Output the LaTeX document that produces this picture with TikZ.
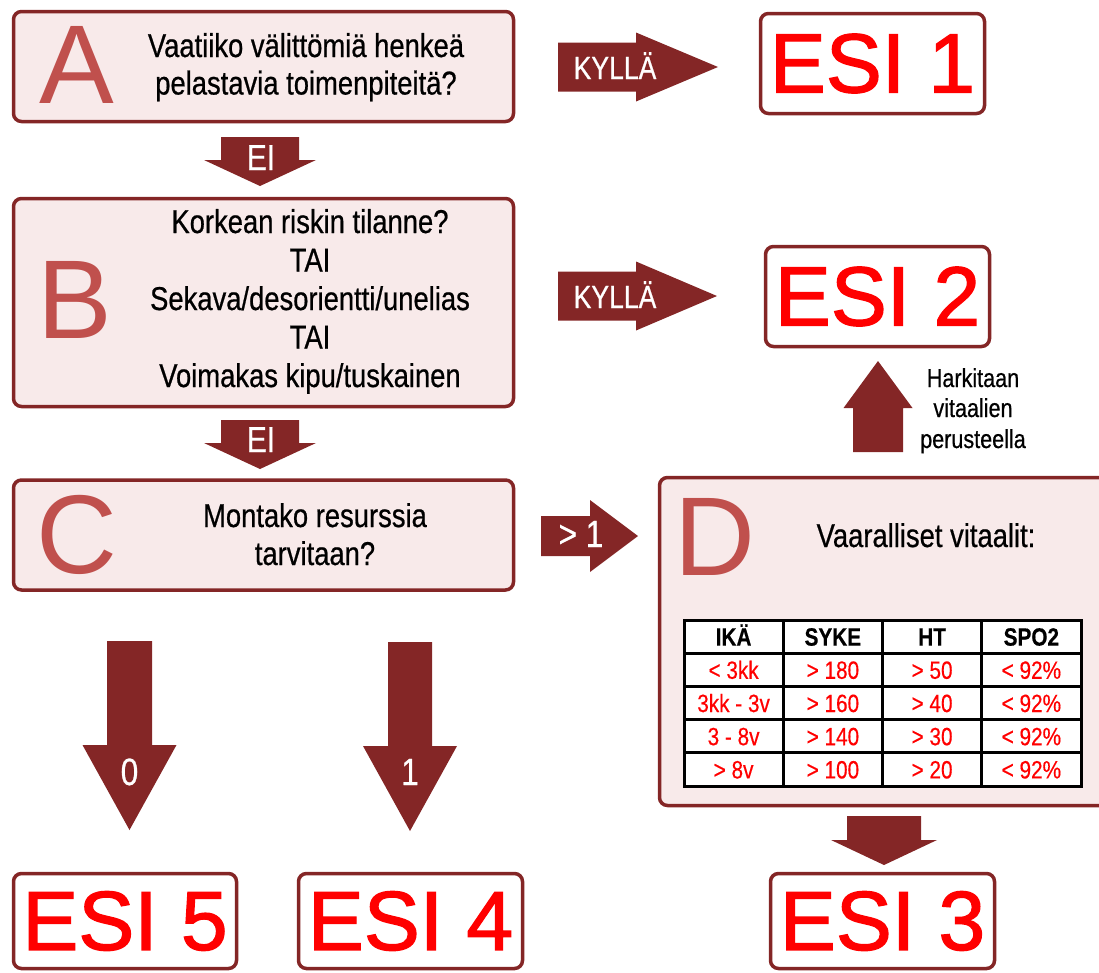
\documentclass[tikz,border=0pt]{standalone}
\usepackage{fontspec}
\setmainfont{Liberation Sans}
\newfontfamily\narrowfont[FakeStretch=0.83,FakeBold=0.6]{Liberation Sans}
\newfontfamily\tablefont[FakeStretch=0.83,FakeBold=0.4]{Liberation Sans}
\newfontfamily\esifont[FakeBold=1.5]{Liberation Sans}
\definecolor{dred}{RGB}{132,38,38}
\definecolor{pinkf}{RGB}{248,234,234}
\definecolor{letc}{RGB}{192,80,77}
\definecolor{esired}{RGB}{255,0,0}
\tikzset{
  qbox/.style={draw=dred, fill=pinkf, line width=3.5pt, rounded corners=8pt, inner sep=0pt},
  esibox/.style={draw=dred, fill=white, line width=3.5pt, rounded corners=8pt, inner sep=0pt,
    text=esired, font=\esifont\fontsize{84}{84}\selectfont},
  bigletter/.style={text=letc, font=\fontsize{112}{112}\selectfont, inner sep=0pt},
  qtext/.style={font=\narrowfont\fontsize{33}{38}\selectfont, inner sep=0pt, anchor=base},
  htext/.style={font=\narrowfont\fontsize{26}{30}\selectfont, inner sep=0pt, anchor=base},
  arrtext/.style={text=white, inner sep=0pt, anchor=base},
  arrfill/.style={fill=dred},
  tcell/.style={font=\tablefont\fontsize{25}{25}\selectfont, inner sep=0pt, anchor=base},
}
% right-pointing block arrow: x0, xhead, xtip, ycenter, shaft half, head half
\newcommand\rblock[6]{\fill[arrfill] (#1,#4-#5) -- (#2,#4-#5) -- (#2,#4-#6) -- (#3,#4)
  -- (#2,#4+#6) -- (#2,#4+#5) -- (#1,#4+#5) -- cycle;}
% vertical block arrow: xcenter, y0 (tail), yhead, ytip, shaft half, head half
\newcommand\vblock[6]{\fill[arrfill] (#1-#5,#2) -- (#1+#5,#2) -- (#1+#5,#3) -- (#1+#6,#3)
  -- (#1,#4) -- (#1-#6,#3) -- (#1-#5,#3) -- cycle;}
\begin{document}
\begin{tikzpicture}[x=1pt,y=-1pt]
\useasboundingbox (0,0) rectangle (1099,972);
\clip (0,0) rectangle (1099,972);

% question boxes
\node[qbox, minimum width=500, minimum height=110] (A) at (263.5,66.5) {};
\node[qbox, minimum width=500, minimum height=208] (B) at (263.5,302.5) {};
\node[qbox, minimum width=500, minimum height=110] (C) at (263.5,535) {};
\node[qbox, minimum width=451, minimum height=328] (D) at (885,641.5) {};

% big letters
\node[bigletter] (LA) at (77,65) {A};
\node[bigletter] (LB) at (75,300) {B};
\node[bigletter] (LC) at (77,535) {C};
\node[bigletter] (LD) at (714.5,537) {D};

% question texts
\node[qtext] (a1) at (306,57) {Vaatiiko välittömiä henkeä};
\node[qtext] (a2) at (306,94.5) {pelastavia toimenpiteitä?};

\node[qtext] (b1) at (310,233) {Korkean riskin tilanne?};
\node[qtext] (b2) at (310,271.5) {TAI};
\node[qtext] (b3) at (310,310) {Sekava/desorientti/unelias};
\node[qtext] (b4) at (310,348.5) {TAI};
\node[qtext] (b5) at (310,387) {Voimakas kipu/tuskainen};

\node[qtext] (c1) at (315,527) {Montako resurssia};
\node[qtext] (c2) at (315,565) {tarvitaan?};

\node[qtext] (d1) at (926,547) {Vaaralliset vitaalit:};

% ESI boxes
\node[esibox, minimum width=224, minimum height=100] (E1) at (872.5,63.5) {ESI 1};
\node[esibox, minimum width=224, minimum height=100] (E2) at (877.5,296.5) {ESI 2};
\node[esibox, minimum width=223, minimum height=95] (E5) at (125,921) {ESI 5};
\node[esibox, minimum width=224, minimum height=95] (E4) at (410.5,921) {ESI 4};
\node[esibox, minimum width=224, minimum height=95] (E3) at (882.5,921) {ESI 3};

% block arrows
\rblock{558}{636}{718}{67}{24.5}{34.5}
\rblock{558}{636}{717}{296}{24.5}{34.5}
\rblock{541}{590}{638}{536}{20}{36}
\vblock{260}{137}{160}{186}{39}{56}
\vblock{260}{420}{443}{469}{39}{56}
\vblock{129.5}{641}{745}{830}{22.5}{47}
\vblock{410}{642}{746}{831}{22}{47}
\vblock{878}{452}{408}{361}{25}{34.5}
\vblock{884}{816}{840}{865}{37}{53}

% arrow labels
\node[arrtext, font=\narrowfont\fontsize{32}{32}\selectfont] (k1) at (615,79) {KYLLÄ};
\node[arrtext, font=\narrowfont\fontsize{32}{32}\selectfont] (k2) at (615,308) {KYLLÄ};
\node[arrtext, font=\narrowfont\fontsize{36}{36}\selectfont] (ei1) at (261,170) {EI};
\node[arrtext, font=\narrowfont\fontsize{36}{36}\selectfont] (ei2) at (261,452) {EI};
\node[arrtext, font=\narrowfont\fontsize{38}{38}\selectfont] (n0) at (129.5,785) {0};
\node[arrtext, font=\narrowfont\fontsize{38}{38}\selectfont] (n1) at (410,785) {1};
\node[arrtext, font=\narrowfont\fontsize{38}{38}\selectfont] (gt1) at (581,547) {> 1};

% consideration text
\node[htext] (h1) at (973,387) {Harkitaan};
\node[htext] (h2) at (973,417) {vitaalien};
\node[htext] (h3) at (973,448) {perusteella};

% vitals table
\fill[white] (684,620) rectangle (1081,786);
\foreach \xx in {684,783.25,882.5,981.75,1081}
  \draw[line width=3pt, line cap=rect] (\xx,620) -- (\xx,786);
\foreach \yy in {620,653.2,686.4,719.6,752.8,786}
  \draw[line width=3pt, line cap=rect] (684,\yy) -- (1081,\yy);
\foreach \c/\t [count=\i] in {0/IKÄ,1/SYKE,2/HT,3/SPO2}
  \node[tcell, font=\tablefont\bfseries\fontsize{25}{25}\selectfont] (th\i) at (733.6+99.25*\c,645.6) {\t};
\foreach \r/\a/\b/\cc/\d in {1/{< 3kk}/{> 180}/{> 50}/{< 92\%},
                             2/{3kk - 3v}/{> 160}/{> 40}/{< 92\%},
                             3/{3 - 8v}/{> 140}/{> 30}/{< 92\%},
                             4/{> 8v}/{> 100}/{> 20}/{< 92\%}} {
  \node[tcell, text=esired] (t\r a) at (733.6,645.6+33.2*\r) {\a};
  \node[tcell, text=esired] (t\r b) at (832.9,645.6+33.2*\r) {\b};
  \node[tcell, text=esired] (t\r c) at (932.1,645.6+33.2*\r) {\cc};
  \node[tcell, text=esired] (t\r d) at (1031.4,645.6+33.2*\r) {\d};
}
\end{tikzpicture}
\end{document}
